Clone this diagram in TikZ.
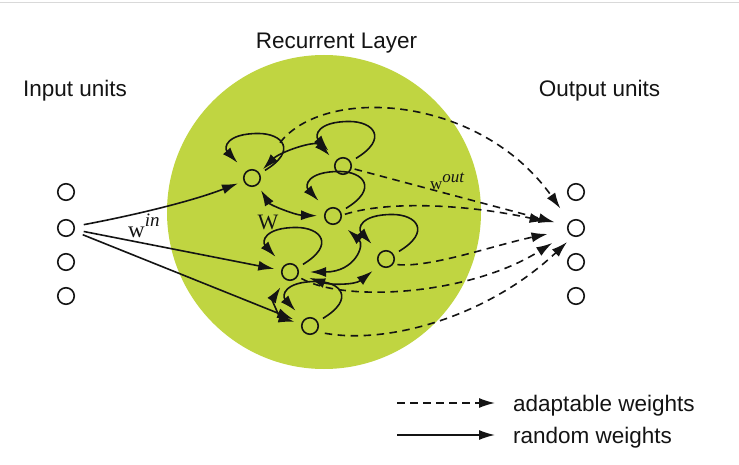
\documentclass[tikz,border=0pt]{standalone}
\usepackage{fontspec}
\setmainfont{Liberation Sans}
\newfontfamily\timesf{Liberation Serif}
\usetikzlibrary{arrows.meta}
\definecolor{layergreen}{RGB}{192,213,65}
\definecolor{ink}{RGB}{20,20,20}
\newcommand{\selfloop}[1]{\draw[rnd,shorten <=6pt,shorten >=12pt] (#1.30) .. controls +(38,-23) and +(24,0) .. ++(-1.5,-40) .. controls +(-32,0) and +(-22,-24) .. (#1.135);}
\begin{document}
\begin{tikzpicture}[x=1pt,y=-1pt,
  unit/.style={circle,draw=ink,line width=1.6pt,minimum size=16.5pt,inner sep=0pt},
  tip/.tip={Latex[length=16pt,width=10pt]},
  rnd/.style={draw=ink,line width=1.6pt,-tip},
  rndb/.style={draw=ink,line width=1.6pt,tip-tip},
  adp/.style={draw=ink,line width=1.6pt,dash pattern=on 7.5pt off 5.5pt,-tip},
  lbl/.style={font=\fontsize{22.5}{26}\selectfont,text=ink,inner sep=0pt}
]
\useasboundingbox (0,0) rectangle (739,465);
\fill[white] (0,0) rectangle (739,465);
\draw[gray!30,line width=1pt] (0,2.5) -- (739,2.5);

% recurrent layer disk
\fill[layergreen] (324,212) circle[radius=157];

% units
\node[unit] (I1) at (66,192) {};
\node[unit] (I2) at (66,228) {};
\node[unit] (I3) at (66,262) {};
\node[unit] (I4) at (66,296) {};
\node[unit] (O1) at (576,192) {};
\node[unit] (O2) at (576,228) {};
\node[unit] (O3) at (576,262) {};
\node[unit] (O4) at (576,296) {};
\node[unit] (A) at (252,178) {};
\node[unit] (B) at (343,166) {};
\node[unit] (C) at (333,216) {};
\node[unit] (D) at (290,272) {};
\node[unit] (E) at (386,259) {};
\node[unit] (F) at (310,326) {};

% input weights
\draw[rnd,shorten <=9pt,shorten >=6pt] (I2) .. controls (130,216) and (190,202) .. (A);
\draw[rnd,shorten <=9pt,shorten >=7pt] (I2) -- (D);
\draw[rnd,shorten <=9pt,shorten >=9pt] (I2) -- (F);

% self loops
\selfloop{A}
\selfloop{B}
\selfloop{C}
\selfloop{D}
\selfloop{E}
\selfloop{F}

% recurrent connections
\draw[rndb,shorten <=5pt,shorten >=8pt] (A.35) .. controls (280,152) and (315,140) .. (B.150);
\draw[rndb,shorten <=6pt,shorten >=7pt] (A.-50) .. controls (270,205) and (295,215) .. (C.180);
\draw[rndb,shorten <=11pt,shorten >=11pt] (C.-45) .. controls (365,245) and (355,272) .. (D.0);
\draw[rndb,shorten <=11pt,shorten >=9pt] (D.-15) .. controls (330,285) and (355,285) .. (E.-135);
\draw[rndb,shorten <=9pt,shorten >=7pt] (D.-120) .. controls (272,300) and (280,318) .. (F.165);

% output weights
\draw[adp,shorten <=36pt,shorten >=16pt] (A.50) .. controls (325,85) and (480,95) .. (O2.135);
\draw[adp,shorten <=3pt,shorten >=13pt] (B) -- (O2);
\draw[adp,shorten <=3pt,shorten >=22pt] (C.5) .. controls (390,200) and (470,205) .. (O2);
\draw[adp,shorten <=4pt,shorten >=20pt] (E.-35) .. controls (430,268) and (495,245) .. (O2);
\draw[adp,shorten <=4pt,shorten >=19pt] (D.-30) .. controls (345,303) and (470,295) .. (O2);
\draw[adp,shorten <=8pt,shorten >=8pt] (F.-40) .. controls (390,345) and (490,315) .. (O2.250);

% labels
\node[lbl,anchor=base] (tin) at (75,97) {Input units};
\node[lbl,anchor=base] (trec) at (336.5,49) {Recurrent Layer};
\node[lbl,anchor=base] (tout) at (599.5,97) {Output units};
\node[anchor=base west,inner sep=0pt,text=ink] (win) at (128,237) {\timesf\fontsize{23}{26}\selectfont w\raisebox{11pt}{\fontsize{19}{22}\selectfont\itshape in}};
\node[anchor=base,inner sep=0pt,text=ink] (W) at (268,230) {\timesf\fontsize{22}{25}\selectfont W};
\node[anchor=base west,inner sep=0pt,text=ink] (wout) at (430,190) {\timesf\fontsize{17}{20}\selectfont w\raisebox{7pt}{\itshape out}};

% legend
\coordinate (la1) at (397,403);
\coordinate (la2) at (495,403);
\coordinate (lb1) at (397,435);
\coordinate (lb2) at (495,435);
\draw[adp] (la1) -- (la2);
\draw[rnd] (lb1) -- (lb2);
\node[lbl,anchor=base west] (ta) at (513,411.5) {adaptable weights};
\node[lbl,anchor=base west] (tb) at (513,443) {random weights};
\end{tikzpicture}
\end{document}
